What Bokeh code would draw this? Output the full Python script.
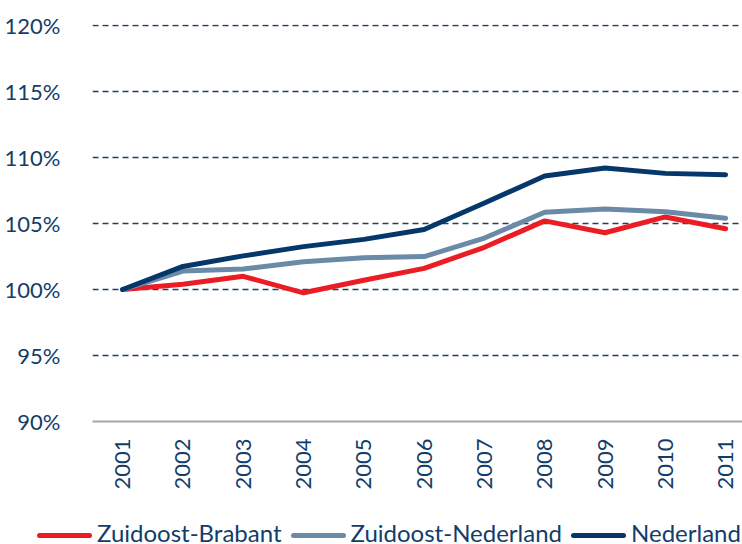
from bokeh.plotting import figure
from bokeh.layouts import column
from bokeh.models import FixedTicker, PrintfTickFormatter, Range1d, Div
from bokeh.embed import file_html
from bokeh.resources import INLINE

years = [2001, 2002, 2003, 2004, 2005, 2006, 2007, 2008, 2009, 2010, 2011]
year_labels = ["2001", "2002", "2003", "2004", "2005", "2006", "2007", "2008", "2009", "2010", "2011"]
brabant = [100.0, 100.4, 101.0, 99.75, 100.7, 101.6, 103.2, 105.2, 104.3, 105.5, 104.6]
zo_nederland = [100.0, 101.4, 101.55, 102.1, 102.4, 102.5, 103.9, 105.85, 106.1, 105.9, 105.4]
nederland = [100.0, 101.75, 102.55, 103.25, 103.8, 104.55, 106.55, 108.6, 109.2, 108.8, 108.7]
series_names = ["Zuidoost-Brabant", "Zuidoost-Nederland", "Nederland"]
y_ticks = [90, 95, 100, 105, 110, 115, 120]

colors = ["#EC1C24", "#6A8AA8", "#06376A"]
text_color = "#123D6A"
font = "Lato"

p = figure(frame_width=650, frame_height=397, output_backend="svg", toolbar_location=None,
           x_range=Range1d(2000.5, 2011.28), y_range=Range1d(90, 120.08),
           min_border_left=92, min_border_right=0, min_border_top=24,
           min_border_bottom=89)
p.outline_line_color = None
p.background_fill_color = "white"

for vals, c in zip([brabant, zo_nederland, nederland], colors):
    p.line(years, vals, line_color=c, line_width=5, line_cap="round", line_join="round")

# axes
p.xaxis.ticker = FixedTicker(ticks=years)
p.xaxis.major_label_overrides = {y: l for y, l in zip(years, year_labels)}
p.xaxis.major_label_orientation = 3.14159265 / 2
p.xaxis.major_label_standoff = 11
p.xaxis.axis_line_color = "#A6A6A6"
p.xaxis.axis_line_width = 2
p.xaxis.major_tick_line_color = None
p.xaxis.minor_tick_line_color = None
p.xaxis.major_label_text_font = font
p.xaxis.major_label_text_font_size = "22px"
p.xaxis.major_label_text_color = text_color

p.yaxis.ticker = FixedTicker(ticks=y_ticks)
p.yaxis.formatter = PrintfTickFormatter(format="%d%%")
p.yaxis.axis_line_color = None
p.yaxis.major_tick_line_color = None
p.yaxis.minor_tick_line_color = None
p.yaxis.major_label_standoff = 26
p.yaxis.major_label_text_font = font
p.yaxis.major_label_text_font_size = "22px"
p.yaxis.major_label_text_color = text_color

p.xgrid.grid_line_color = None
p.ygrid.ticker = FixedTicker(ticks=y_ticks[1:])
p.ygrid.grid_line_color = "#1F3F66"
p.ygrid.grid_line_width = 1.5
p.ygrid.grid_line_dash = "6 4"

# legend strip below the chart, built from the series names and colours
parts = []
for i, (n, c) in enumerate(zip(series_names, colors)):
    ml = 37 if i == 0 else 9
    parts.append(
        f'<span style="display:inline-block;width:55px;height:5px;border-radius:3px;'
        f'background:{c};vertical-align:middle;margin-left:{ml}px;margin-right:5px"></span>'
        f'<span>{n}</span>'
    )
html = (f'<div style="white-space:nowrap;font-family:{font};font-size:24px;color:{text_color};'
        f'line-height:24px;padding-top:11px;margin:0">' + "".join(parts) + '</div>')
legend_div = Div(text=html, width=742, height=34, margin=(0, 0, 0, 0))

open("out.html", "w").write(file_html(column(p, legend_div), INLINE))
